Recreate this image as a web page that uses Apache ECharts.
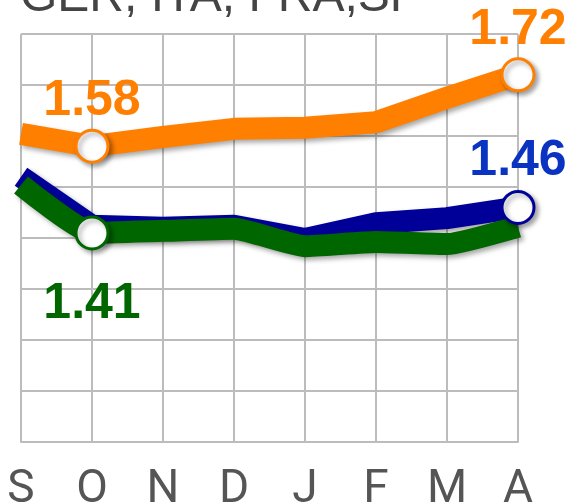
<!DOCTYPE html>
<html>
<head>
<meta charset="utf-8">
<script src="https://cdn.jsdelivr.net/npm/echarts@6/dist/echarts.min.js"></script>
<style>
  html, body { margin: 0; padding: 0; background: #fff; }
  #chart { width: 569px; height: 503px; }
</style>
</head>
<body>
<div id="chart"></div>
<script>
// 月份
const months = ['S', 'O', 'N', 'D', 'J', 'F', 'M', 'A'];

// 三条线的数值
const orangeVals = [1.604, 1.58, 1.598, 1.614, 1.616, 1.627, 1.675, 1.72];
const blueVals = [1.520, 1.424, 1.420, 1.424, 1.398, 1.429, 1.439, 1.46];
const greenVals = [1.504, 1.41, 1.414, 1.418, 1.384, 1.392, 1.388, 1.422];

// 带圆点和标签的位置
const orangeMarks = [1, 7];
const blueMarks = [7];
const greenMarks = [1];

const ORANGE = '#ff7f00';
const BLUE_LINE = '#000099';
const BLUE_TEXT = '#0a33c2';
const GREEN = '#006600';
const GRID_COLOR = '#bcbcbc';

const shadow = {
    shadowColor: 'rgba(0,0,0,0.35)',
    shadowBlur: 5,
    shadowOffsetX: 3,
    shadowOffsetY: 3
};

function lineSeries(name, vals, color, smooth) {
    return {
        name: name,
        type: 'line',
        data: vals,
        symbol: 'none',
        smooth: smooth,
        lineStyle: Object.assign({ color: color, width: 22 }, shadow),
        emphasis: { disabled: true },
        z: 2
    };
}

function markSeries(vals, idx, border, textColor, pos, dist) {
    return {
        type: 'scatter',
        data: idx.map(i => [i, vals[i]]),
        symbol: 'circle',
        symbolSize: 32,
        itemStyle: Object.assign({ color: '#fff', borderColor: border, borderWidth: 3, opacity: 1 }, shadow),
        label: {
            show: true,
            position: pos,
            distance: dist,
            formatter: p => p.value[1].toFixed(2),
            fontSize: 50,
            fontWeight: 'bold',
            fontFamily: 'Liberation Sans, Arial, sans-serif',
            color: textColor
        },
        emphasis: { disabled: true },
        z: 5
    };
}

const chart = echarts.init(document.getElementById('chart'));
chart.setOption({
    animation: false,
    title: {
        text: 'GER, ITA, FRA,SP',
        left: 20,
        top: -26,
        padding: 0,
        textStyle: {
            fontSize: 48,
            fontWeight: 'normal',
            color: '#444',
            fontFamily: 'Liberation Sans, Arial, sans-serif'
        }
    },
    grid: { left: 21, right: 51, top: 34, bottom: 61, outerBoundsMode: 'none' },
    xAxis: {
        type: 'category',
        data: months,
        boundaryGap: false,
        axisLine: { lineStyle: { color: GRID_COLOR, width: 2 } },
        axisTick: { show: false },
        splitLine: { show: true, lineStyle: { color: GRID_COLOR, width: 2 } },
        axisLabel: {
            margin: 25,
            fontSize: 46,
            color: '#555',
            fontFamily: 'Roboto, Liberation Sans, sans-serif'
        }
    },
    yAxis: {
        type: 'value',
        min: 1.0,
        max: 1.8,
        interval: 0.1,
        axisLine: { show: false },
        axisTick: { show: false },
        axisLabel: { show: false },
        splitLine: { show: true, lineStyle: { color: GRID_COLOR, width: 2 } }
    },
    series: [
        lineSeries('FRA', blueVals, BLUE_LINE, false),
        lineSeries('ITA', greenVals, GREEN, 0.15),
        lineSeries('GER', orangeVals, ORANGE, false),
        markSeries(orangeVals, orangeMarks, ORANGE, ORANGE, 'top', 2),
        markSeries(blueVals, blueMarks, BLUE_LINE, BLUE_TEXT, 'top', 4),
        markSeries(greenVals, greenMarks, GREEN, GREEN, 'bottom', 29)
    ]
});
</script>
</body>
</html>
